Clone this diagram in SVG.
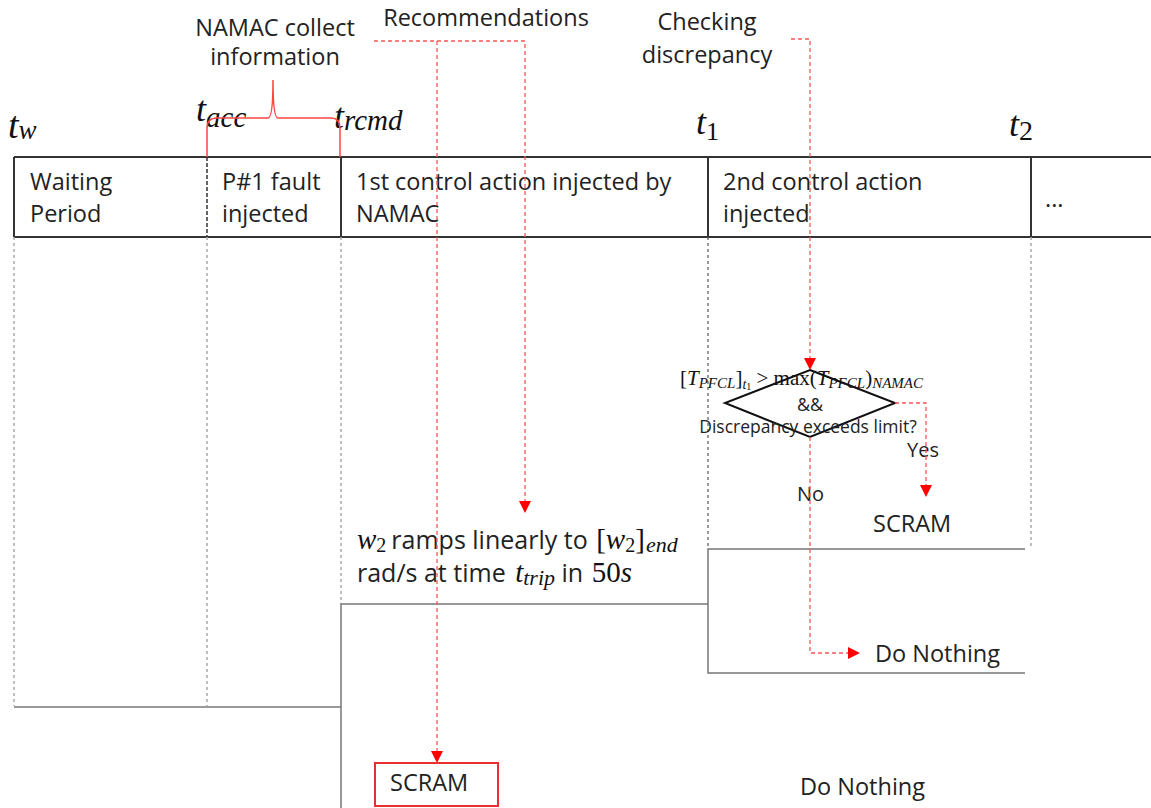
<svg xmlns="http://www.w3.org/2000/svg" width="1151" height="808" viewBox="0 0 1151 808">
  <defs>
    <marker id="arrowRed" viewBox="0 0 10 10" refX="10" refY="5" markerWidth="12" markerHeight="12" markerUnits="userSpaceOnUse" orient="auto">
      <path d="M0,0 L10,5 L0,10 z" fill="#ff0000"/>
    </marker>
  </defs>
  <style>
    .lbl { font-family: "Open Sans", "Noto Sans", sans-serif; font-size: 23.5px; fill: #222; }
    .note { font-size: 25px; }
    .small { font-size: 17.5px; }
    .yn { font-size: 20px; }
    .math { font-family: "Liberation Serif", "DejaVu Serif", serif; font-style: italic; fill: #111; }
    .mathUp { font-family: "Liberation Serif", "DejaVu Serif", serif; font-style: normal; fill: #111; }
    .bar { stroke: #333; stroke-width: 2; fill: none; }
    .sep { stroke: #333; stroke-width: 2; }
    .guide { stroke: #aaa; stroke-width: 1.5; stroke-dasharray: 3 3; fill: none; }
    .guideDark { stroke: #555; stroke-width: 1.2; stroke-dasharray: 3 3; fill: none; }
    .step { stroke: #777; stroke-width: 1.5; fill: none; }
    .flow { stroke: #ff5555; stroke-width: 1.3; stroke-dasharray: 4 3; fill: none; }
  </style>

  <!-- timeline bar -->
  <g id="timeline">
    <line class="bar" x1="14" y1="157" x2="1151" y2="157"/>
    <line class="bar" x1="14" y1="237" x2="1151" y2="237"/>
    <line class="sep" x1="14" y1="157" x2="14" y2="237"/>
    <line stroke="#333" stroke-width="1.5" stroke-dasharray="4 2" x1="207" y1="157" x2="207" y2="237"/>
    <line class="sep" x1="341" y1="157" x2="341" y2="237"/>
    <line class="sep" x1="708" y1="157" x2="708" y2="237"/>
    <line class="sep" x1="1031" y1="157" x2="1031" y2="237"/>
  </g>

  <!-- time markers -->
  <g id="time-labels">
    <text class="math" x="8" y="138" font-size="38">t<tspan font-size="27" dy="1">w</tspan></text>
    <text class="math" x="196" y="121" font-size="36">t<tspan font-size="29" dy="6">acc</tspan></text>
    <text class="math" x="334" y="128" font-size="36">t<tspan font-size="29" dy="2">rcmd</tspan></text>
    <text class="math" x="696" y="134" font-size="36">t<tspan class="mathUp" font-size="26" dy="6">1</tspan></text>
    <text class="math" x="1009" y="136" font-size="36">t<tspan class="mathUp" font-size="28" dy="4">2</tspan></text>
  </g>

  <!-- periods -->
  <g id="period-waiting">
    <text class="lbl" x="30" y="190">Waiting</text>
    <text class="lbl" x="30" y="222">Period</text>
  </g>
  <g id="period-fault">
    <text class="lbl" x="222" y="190">P#1 fault</text>
    <text class="lbl" x="222" y="222">injected</text>
  </g>
  <g id="period-first-action">
    <text class="lbl" x="356" y="190">1st control action injected by</text>
    <text class="lbl" x="356" y="222">NAMAC</text>
  </g>
  <g id="period-second-action">
    <text class="lbl" x="723" y="190">2nd control action</text>
    <text class="lbl" x="723" y="222">injected</text>
  </g>
  <g id="period-more">
    <text class="lbl" x="1045" y="207">...</text>
  </g>

  <!-- guide lines below the bar and outcome steps -->
  <g id="guides">
    <line class="guide" x1="14" y1="237" x2="14" y2="706"/>
    <line class="guide" x1="207" y1="237" x2="207" y2="706"/>
    <line class="guide" x1="341" y1="237" x2="341" y2="604"/>
    <line class="guideDark" x1="708" y1="237" x2="708" y2="548"/>
    <line class="guide" x1="1031" y1="237" x2="1031" y2="548"/>
    <polyline class="step" points="14,707 341,707"/>
    <polyline class="step" points="341,808 341,604 708,604"/>
    <polyline class="step" points="1025,549 708,549 708,673 1025,673"/>
  </g>

  <!-- annotations above -->
  <g id="namac-collect">
    <text class="lbl" x="275" y="36" text-anchor="middle">NAMAC collect</text>
    <text class="lbl" x="275" y="65" text-anchor="middle">information</text>
    <path d="M207,157 L207,128 Q207,118 217,118 L268,118 Q273,118 273,80 Q273,118 278,118 L331,118 Q340,118 340,128 L340,157" fill="none" stroke="#ff4444" stroke-width="1.5"/>
  </g>
  <g id="recommendations">
    <text class="lbl" x="486" y="26" text-anchor="middle">Recommendations</text>
  </g>
  <g id="checking">
    <text class="lbl" x="707" y="30" text-anchor="middle">Checking</text>
    <text class="lbl" x="707" y="63" text-anchor="middle">discrepancy</text>
  </g>

  <!-- first action outcome -->
  <g id="ramp-note">
    <text class="lbl note" x="357" y="549"><tspan class="math" font-size="29">w</tspan><tspan class="mathUp" font-size="20" dy="3">2</tspan><tspan dy="-3" dx="5">ramps linearly to </tspan><tspan class="mathUp" font-size="29" dx="2">[</tspan><tspan class="math" font-size="29">w</tspan><tspan class="mathUp" font-size="20" dy="3">2</tspan><tspan class="mathUp" font-size="29" dy="-3">]</tspan><tspan class="math" font-size="22" dy="3" dx="1">end</tspan></text>
    <text class="lbl note" x="357" y="582">rad/s at time <tspan class="math" font-size="29" dx="3">t</tspan><tspan class="math" font-size="22" dy="3">trip</tspan><tspan dy="-3"> in </tspan><tspan class="mathUp" font-size="29" dx="2">50</tspan><tspan class="math" font-size="29">s</tspan></text>
  </g>
  <g id="scram-box">
    <rect x="375" y="763" width="123" height="43" fill="none" stroke="#e53030" stroke-width="2"/>
    <text class="lbl" x="390" y="791">SCRAM</text>
  </g>
  <g id="do-nothing-1">
    <text class="lbl" x="800" y="795">Do Nothing</text>
  </g>

  <!-- decision at t1 -->
  <g id="decision">
    <polygon points="810,370 895,403 810,437 725,403" fill="none" stroke="#111" stroke-width="2"/>
    <text class="mathUp" x="680" y="385" font-size="21">[<tspan class="math">T</tspan><tspan class="math" font-size="15" dy="3">PFCL</tspan><tspan dy="-3">]</tspan><tspan class="math" font-size="14" dy="4">t</tspan><tspan font-size="10" dy="1">1</tspan><tspan dy="-5"> &gt; max(</tspan><tspan class="math">T</tspan><tspan class="math" font-size="15" dy="3">PFCL</tspan><tspan dy="-3">)</tspan><tspan class="math" font-size="15" dy="3">NAMAC</tspan></text>
    <text class="lbl" x="810" y="411" text-anchor="middle" style="font-size:18px">&amp;&amp;</text>
    <text class="lbl small" x="808" y="433" text-anchor="middle">Discrepancy exceeds limit?</text>
  </g>
  <g id="yes-scram">
    <text class="lbl yn" x="907" y="457">Yes</text>
    <text class="lbl" x="873" y="532">SCRAM</text>
  </g>
  <g id="do-nothing-2">
    <text class="lbl yn" x="797" y="501">No</text>
    <text class="lbl" x="875" y="662">Do Nothing</text>
  </g>

  <!-- connectors -->
  <g id="connectors">
    <polyline class="flow" points="374,41 525,41 525,513" marker-end="url(#arrowRed)"/>
    <polyline class="flow" points="437,41 437,763" marker-end="url(#arrowRed)"/>
    <polyline class="flow" points="791,39 810,39 810,370" marker-end="url(#arrowRed)"/>
    <polyline class="flow" points="895,403 926,403 926,497" marker-end="url(#arrowRed)"/>
    <polyline class="flow" points="810,437 810,653 860,653" marker-end="url(#arrowRed)"/>
  </g>
</svg>
